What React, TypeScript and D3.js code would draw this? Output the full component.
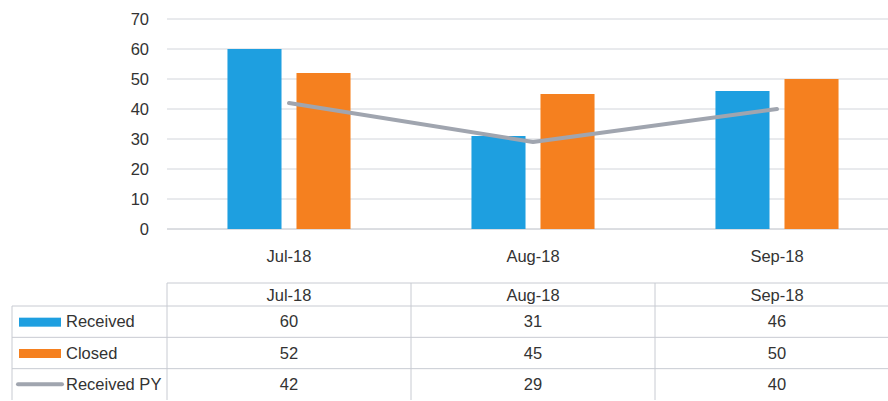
import React from 'react';
import * as d3 from 'd3';

const months = ['Jul-18', 'Aug-18', 'Sep-18'];
const received = [60, 31, 46];
const closed = [52, 45, 50];
const receivedPY = [42, 29, 40];
const yTicks = [0, 10, 20, 30, 40, 50, 60, 70];

const W = 888;
const H = 401;
const FONT = "'Liberation Sans', 'DejaVu Sans', sans-serif";

export default function App() {
  const x0 = d3.scaleBand().domain(months).range([167, 899]);
  const x1 = d3.scaleBand().domain(['Received', 'Closed']).range([0, x0.bandwidth()])
    .paddingInner(0.217).paddingOuter(0.876);
  const y = d3.scaleLinear().domain([0, 70]).range([229, 19]);

  const line = d3.line<number>()
    .x((_, i) => (x0(months[i]) as number) + x0.bandwidth() / 2)
    .y(d => y(d));

  // data table rows
  const rowNames = ['Received', 'Closed', 'Received PY'];
  const rowVals = [received, closed, receivedPY];
  const headTop = 283;
  const rowY = d3.scaleBand().domain(rowNames).range([306, 400]);
  const tableLeft = 12;
  const tableRight = 888;
  const grid = '#c8cbd2';

  return (
    <svg width={W} height={H} style={{ position: 'absolute', left: 0, top: 0, background: '#fff' }}>
      {/* gridlines */}
      {yTicks.map(t => (
        <line key={t} x1={167} x2={tableRight} y1={y(t)} y2={y(t)}
          stroke={t === 0 ? '#b8bcc4' : '#d2d5db'} strokeWidth={1} />
      ))}
      {yTicks.map(t => (
        <text key={'l' + t} x={149} y={y(t)} dy="0.35em" textAnchor="end"
          fontFamily={FONT} fontSize={16.5} fill="#333">{t}</text>
      ))}
      {/* bars */}
      {months.map((m, i) => (
        <g key={m} transform={`translate(${x0(m)},0)`}>
          <rect x={x1('Received')} width={x1.bandwidth()} y={y(received[i])}
            height={y(0) - y(received[i])} fill="#1E9FE0" />
          <rect x={x1('Closed')} width={x1.bandwidth()} y={y(closed[i])}
            height={y(0) - y(closed[i])} fill="#F5801F" />
        </g>
      ))}
      {/* line */}
      <path d={line(receivedPY) || ''} fill="none" stroke="#A0A5AF" strokeWidth={4}
        strokeLinejoin="round" strokeLinecap="round" />
      {/* category labels */}
      {months.map(m => (
        <text key={'c' + m} x={(x0(m) as number) + x0.bandwidth() / 2} y={256}
          dy="0.35em" textAnchor="middle" fontFamily={FONT} fontSize={16.5} fill="#333">{m}</text>
      ))}
      {/* data table */}
      <g fontFamily={FONT} fontSize={16.5} fill="#333">
        <line x1={167} x2={tableRight} y1={headTop} y2={headTop} stroke={grid} />
        {rowNames.map(r => (
          <line key={'h' + r} x1={tableLeft} x2={tableRight} y1={rowY(r)} y2={rowY(r)} stroke={grid} />
        ))}
        <line x1={tableLeft} x2={tableLeft} y1={rowY('Received')} y2={400} stroke={grid} />
        {months.map(m => (
          <line key={'v' + m} x1={x0(m)} x2={x0(m)} y1={headTop} y2={400} stroke={grid} />
        ))}
        {months.map(m => (
          <text key={'th' + m} x={(x0(m) as number) + x0.bandwidth() / 2}
            y={(headTop + (rowY('Received') as number)) / 2 + 1} dy="0.35em" textAnchor="middle">{m}</text>
        ))}
        {rowNames.map((r, ri) => {
          const cy = (rowY(r) as number) + rowY.bandwidth() / 2;
          return (
            <g key={'r' + r}>
              {ri < 2 ? (
                <rect x={19} y={cy - 4} width={42} height={9} fill={ri === 0 ? '#1E9FE0' : '#F5801F'} />
              ) : (
                <line x1={18} x2={62} y1={cy} y2={cy} stroke="#A0A5AF" strokeWidth={4} strokeLinecap="round" />
              )}
              <text x={66} y={cy} dy="0.35em">{r}</text>
              {months.map((m, i) => (
                <text key={m} x={(x0(m) as number) + x0.bandwidth() / 2} y={cy} dy="0.35em"
                  textAnchor="middle">{rowVals[ri][i]}</text>
              ))}
            </g>
          );
        })}
      </g>
    </svg>
  );
}
